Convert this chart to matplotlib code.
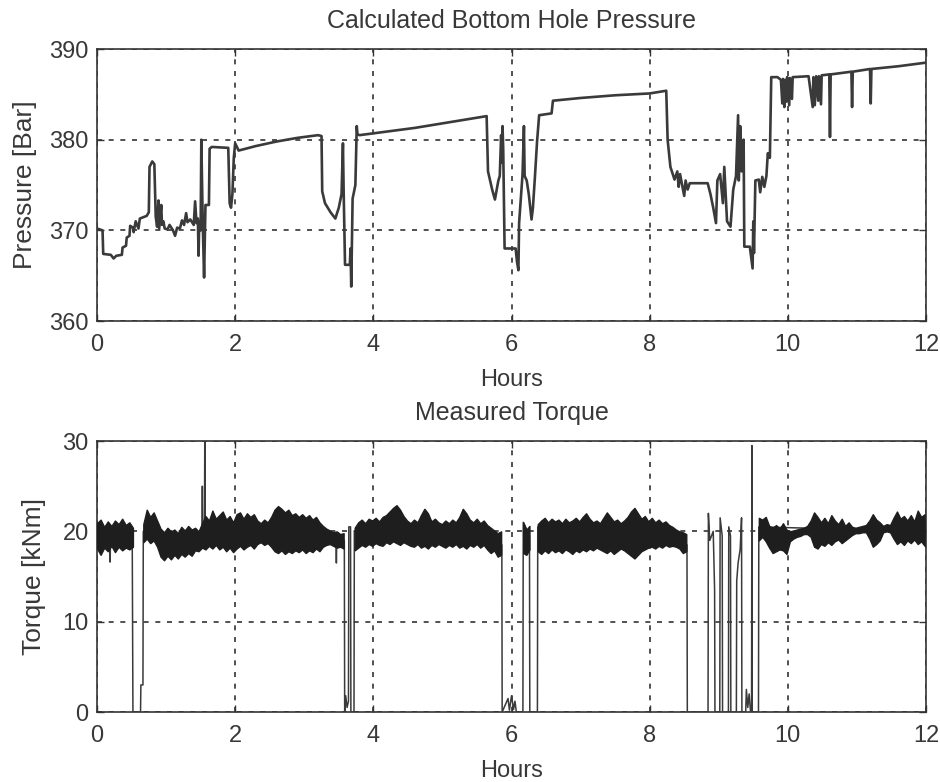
import numpy as np
import matplotlib
matplotlib.use("Agg")
import matplotlib.pyplot as plt

# ---- Calculated bottom hole pressure (hours, bar) ----
p_hours = [
    0.00, 0.08, 0.09, 0.20, 0.24, 0.28, 0.36, 0.37, 0.42, 0.43, 0.47, 0.48,
    0.52, 0.53, 0.56, 0.60, 0.62, 0.72, 0.75, 0.76, 0.80, 0.83, 0.85, 0.87,
    0.89, 0.90, 0.93, 0.94, 0.96, 0.98, 1.02, 1.05, 1.10, 1.13, 1.16, 1.20,
    1.23, 1.26, 1.29, 1.31, 1.35, 1.40, 1.42, 1.44, 1.46, 1.47, 1.48, 1.50,
    1.51, 1.53, 1.55, 1.57, 1.62, 1.63, 1.66, 1.90, 1.92, 1.94, 1.96, 1.98,
    2.00, 2.05, 2.30, 2.60, 2.90, 3.20, 3.25, 3.26, 3.30, 3.38, 3.45, 3.50,
    3.54, 3.56, 3.57, 3.59, 3.66, 3.67, 3.68, 3.70, 3.74, 3.76, 3.77, 3.80,
    4.20, 4.60, 5.00, 5.40, 5.64, 5.66, 5.72, 5.76, 5.81, 5.83, 5.85, 5.86,
    5.87, 5.88, 5.90, 6.06, 6.08, 6.10, 6.11, 6.14, 6.16, 6.18, 6.19, 6.22,
    6.25, 6.29, 6.31, 6.34, 6.37, 6.40, 6.58, 6.60, 7.00, 7.50, 8.00, 8.24,
    8.26, 8.30, 8.36, 8.40, 8.42, 8.44, 8.47, 8.50, 8.52, 8.55, 8.58, 8.84,
    8.88, 8.92, 8.96, 8.98, 9.02, 9.06, 9.08, 9.12, 9.17, 9.21, 9.25, 9.28,
    9.29, 9.31, 9.33, 9.36, 9.37, 9.45, 9.47, 9.49, 9.50, 9.51, 9.53, 9.58,
    9.60, 9.63, 9.66, 9.69, 9.71, 9.74, 9.76, 9.85, 9.90, 9.92, 9.93, 9.95,
    9.96, 9.98, 9.99, 10.02, 10.03, 10.06, 10.07, 10.30, 10.36, 10.37, 10.39,
    10.41, 10.44, 10.45, 10.48, 10.49, 10.60, 10.61, 10.62, 10.92, 10.93,
    10.94, 11.19, 11.20, 11.21, 11.60, 12.00,
]
p_bar = [
    370.2, 370.0, 367.4, 367.3, 366.9, 367.2, 367.3, 368.1, 368.3, 369.2, 369.4, 370.5,
    370.3, 369.8, 371.0, 370.2, 371.3, 371.6, 372.0, 377.0, 377.6, 377.3, 371.5, 370.4,
    373.3, 370.2, 372.8, 370.6, 371.0, 370.2, 370.1, 370.6, 370.0, 369.4, 370.3, 370.2,
    371.1, 370.6, 371.9, 370.9, 371.2, 370.6, 373.2, 370.8, 371.3, 367.2, 371.0, 370.0,
    380.0, 371.0, 364.8, 372.8, 372.8, 379.0, 379.2, 379.1, 373.0, 372.5, 374.0, 378.0,
    379.6, 378.8, 379.3, 379.8, 380.2, 380.5, 380.4, 374.3, 373.0, 372.0, 371.3, 372.5,
    374.0, 379.6, 374.5, 366.2, 366.2, 368.0, 363.8, 373.5, 375.0, 381.5, 380.6, 380.5,
    380.9, 381.3, 381.8, 382.3, 382.6, 376.5, 374.5, 373.4, 375.5, 376.0, 380.5, 377.5,
    381.5, 379.0, 368.0, 368.0, 366.5, 365.6, 370.8, 374.0, 376.2, 381.5, 376.0, 375.5,
    374.0, 371.2, 372.5, 376.0, 379.8, 382.7, 382.9, 384.3, 384.6, 384.9, 385.1, 385.4,
    380.0, 377.0, 375.6, 376.5, 374.8, 376.2, 375.0, 373.8, 375.5, 374.5, 375.2, 375.2,
    374.0, 372.5, 370.8, 375.5, 376.2, 373.0, 377.0, 371.0, 370.4, 374.5, 376.0, 382.7,
    375.5, 381.5, 376.5, 380.0, 368.2, 368.2, 367.0, 365.8, 371.0, 367.5, 375.5, 375.6,
    374.2, 375.9, 374.8, 376.0, 378.5, 378.0, 386.9, 386.9, 386.6, 384.0, 386.7, 383.6,
    386.6, 384.2, 386.9, 383.8, 386.8, 384.5, 386.9, 387.0, 383.6, 386.9, 383.8,
    387.0, 384.3, 387.0, 383.9, 387.1, 387.2, 380.3, 387.2, 387.5, 383.6,
    387.5, 387.8, 384.0, 387.8, 388.1, 388.5,
]

# ---- Measured torque: trace through dropouts and spikes (hours, kNm) ----
t_hours = [
    0.00, 0.185, 0.19, 0.195, 0.51, 0.52, 0.63, 0.635, 0.665, 0.67, 1.52, 1.525,
    1.53, 1.555, 1.56, 1.565, 3.46, 3.465, 3.47, 3.58, 3.585, 3.60, 3.62, 3.64,
    3.645, 3.67, 3.675, 3.72, 3.725, 5.86, 5.865, 5.95, 5.97, 6.00, 6.03, 6.05,
    6.07, 6.165, 6.17, 6.26, 6.265, 6.375, 6.38, 8.54, 8.545, 8.845, 8.85, 8.87,
    8.92, 8.94, 8.945, 9.015, 9.02, 9.05, 9.055, 9.14, 9.145, 9.17, 9.175, 9.255,
    9.26, 9.28, 9.31, 9.33, 9.335, 9.39, 9.40, 9.42, 9.44, 9.46, 9.475, 9.48,
    9.485, 9.575, 9.58, 12.00,
]
t_knm = [
    19.5, 19.0, 16.6, 19.0, 19.0, 0.0, 0.0, 3.0, 3.0, 20.0, 19.5, 25.0,
    19.5, 19.5, 30.0, 19.5, 19.0, 16.5, 19.0, 19.0, 0.0, 1.8, 0.5, 1.2,
    20.5, 20.5, 0.0, 0.0, 20.0, 18.5, 0.0, 1.5, 0.2, 1.8, 0.3, 1.2,
    0.0, 0.0, 21.0, 19.5, 0.0, 0.0, 20.5, 18.5, 0.0, 0.0, 22.0, 19.0,
    20.0, 13.5, 0.0, 0.0, 21.5, 19.5, 0.0, 0.0, 20.5, 19.5, 0.0, 0.0,
    14.5, 16.5, 18.0, 21.5, 0.0, 0.0, 2.5, 0.5, 2.0, 0.0, 0.0, 29.5,
    0.0, 0.0, 20.5, 20.0,
]

# ---- Measured torque: noise band envelope, per running segment ----
# (start hour, end hour); samples evenly spaced inside each segment
band_spans = [(0.00, 0.52), (0.67, 3.57), (3.73, 5.85), (6.17, 6.26), (6.38, 8.53), (9.58, 11.98)]
band_hi = [
    [20.9, 21.3, 20.5, 21.1, 20.6, 21.2, 20.8, 21.4, 20.7, 21.0, 20.4],
    [20.8, 22.4, 21.6, 22.1, 21.2, 20.3, 19.9, 20.4, 20.0, 20.2, 19.8, 20.5,
     20.1, 20.6, 20.2, 20.4, 20.0, 20.9, 21.7, 21.2, 22.3, 21.4, 21.8, 22.2,
     21.3, 21.7, 21.0, 21.9, 22.1, 21.4, 22.0, 21.6, 21.9, 21.2, 20.9, 21.3,
     21.0, 21.6, 22.4, 22.8, 22.5, 22.1, 22.4, 21.8, 22.0, 21.6, 21.9, 21.5,
     21.8, 21.3, 21.6, 21.0, 20.6, 20.3, 20.1, 19.9, 20.0, 19.7, 19.8],
    [20.4, 21.0, 21.3, 20.9, 21.4, 21.2, 21.5, 21.1, 21.6, 21.8, 22.2, 22.6,
     22.9, 22.4, 21.7, 21.2, 20.9, 21.3, 21.0, 21.8, 22.5, 22.0, 21.1, 21.4,
     21.0, 20.8, 21.2, 20.9, 21.3, 21.0, 21.6, 22.5, 22.0, 21.3, 21.0, 21.4,
     20.9, 21.2, 20.7, 20.4, 20.1, 19.8, 20.0],
    [21.0, 20.2, 20.6],
    [20.8, 21.2, 21.5, 21.0, 21.4, 21.1, 21.3, 20.9, 21.4, 21.0, 21.2, 21.5,
     21.1, 21.6, 22.0, 21.4, 21.0, 21.2, 20.9, 21.5, 22.1, 21.6, 21.1, 21.3,
     20.9, 21.2, 21.6, 22.2, 22.6, 22.0, 21.4, 21.7, 21.1, 21.5, 21.0, 21.3,
     20.9, 21.1, 20.7, 20.5, 20.2, 20.0, 19.9, 19.7],
    [21.5, 21.3, 21.6, 20.6, 20.4, 20.7, 20.3, 20.9, 20.2, 20.0, 20.1, 20.2,
     20.3, 20.4, 20.6, 21.2, 22.1, 21.6, 21.0, 21.5, 20.9, 21.8, 21.2, 20.8,
     21.4, 20.6, 21.0, 20.5, 20.4, 20.5, 20.6, 20.7, 21.2, 21.9, 21.3, 21.0,
     20.6, 20.8, 20.7, 21.5, 22.2, 21.4, 21.7, 21.2, 21.8, 21.1, 22.3, 21.6,
     21.9],
]
band_lo = [
    [18.1, 17.4, 18.2, 17.8, 18.4, 17.7, 18.3, 17.9, 18.2, 18.0, 18.3],
    [18.8, 19.2, 18.7, 19.0, 18.3, 17.2, 16.8, 17.3, 16.9, 17.4, 17.0, 17.5,
     17.2, 17.6, 17.3, 17.9, 17.8, 18.2, 18.0, 18.4, 18.1, 18.5, 18.0, 18.3,
     17.8, 18.2, 17.7, 18.1, 18.4, 18.0, 18.3, 18.5, 18.1, 18.6, 18.8, 18.5,
     18.7, 18.3, 17.8, 17.6, 17.9, 17.5, 17.8, 17.6, 17.9, 17.7, 18.0, 17.6,
     17.9, 17.7, 18.1, 17.8, 18.3, 18.5, 18.6, 18.4, 18.2, 18.3, 18.1],
    [17.9, 18.2, 18.5, 18.3, 18.6, 18.4, 18.7, 18.5, 18.4, 18.8, 18.6, 18.9,
     18.7, 18.5, 18.8, 18.6, 18.4, 18.3, 18.6, 18.2, 18.4, 18.1, 18.5, 18.3,
     18.6, 18.4, 18.2, 18.5, 18.3, 18.6, 18.2, 18.4, 18.1, 18.5, 18.3, 18.6,
     18.2, 18.5, 18.0, 17.6, 17.9, 17.2, 17.4],
    [17.6, 17.4, 18.0],
    [17.8, 17.5, 17.9, 17.6, 18.0, 17.7, 17.9, 17.6, 18.0, 17.8, 17.5, 17.9,
     17.7, 18.0, 17.8, 18.1, 17.9, 18.2, 18.0, 17.8, 17.6, 17.9, 17.5, 17.8,
     18.1, 17.9, 17.6, 17.3, 17.0, 17.4, 17.8, 18.0, 18.2, 18.3, 18.1, 18.4,
     18.2, 18.5, 18.3, 18.4, 18.3, 18.1, 17.6, 17.8],
    [19.0, 19.4, 18.9, 18.2, 17.6, 17.8, 18.0, 17.9, 17.5, 18.9, 19.2, 19.4,
     19.5, 19.7, 19.7, 19.4, 18.3, 18.1, 18.6, 18.4, 18.8, 18.5, 18.9, 19.1,
     18.7, 19.0, 19.3, 19.6, 19.8, 19.8, 19.9, 19.9, 19.2, 18.3, 18.6, 19.0,
     19.9, 20.0, 19.9, 19.2, 18.6, 18.9, 18.5, 19.0, 18.7, 19.1, 18.6, 18.9,
     18.4],
]

TEXT = "#383838"
LINE = "#3a3a3a"
plt.rcParams["font.family"] = ["Liberation Sans", "DejaVu Sans"]
plt.rcParams["font.size"] = 17


def style_axes(ax, ylim, yticks, ylabel, title, ypad):
    ax.set_xlim(0, 12)
    ax.set_ylim(*ylim)
    ax.set_xticks(range(0, 13, 2))
    ax.set_yticks(yticks)
    ax.set_xlabel("Hours", color=TEXT, labelpad=10)
    ax.set_ylabel(ylabel, color=TEXT, labelpad=ypad, fontsize=19)
    ax.set_title(title, color=TEXT, pad=15, fontsize=18)
    ax.grid(True, color="#333333", linestyle=(0, (3, 4)), linewidth=1.2)
    ax.tick_params(direction="in", length=5, width=1, colors="#333333",
                   labelcolor=TEXT, top=True, right=True)
    ax.tick_params(axis="x", pad=9)
    ax.tick_params(axis="y", pad=6)
    for s in ax.spines.values():
        s.set_color("#333333")
        s.set_linewidth(1.2)


fig = plt.figure(figsize=(9.4, 7.82), dpi=100)
ax1 = fig.add_axes([0.1032, 0.5895, 0.8819, 0.3478])
ax2 = fig.add_axes([0.1032, 0.0895, 0.8819, 0.3465])

# top: pressure
ax1.plot(p_hours, p_bar, color=LINE, linewidth=1.9, zorder=3)
style_axes(ax1, (360, 390), [360, 370, 380, 390], "Pressure [Bar]",
           "Calculated Bottom Hole Pressure", 9)

# bottom: torque
ax2.plot(t_hours, t_knm, color=LINE, linewidth=1.1, zorder=3)
for (h0, h1), hi, lo in zip(band_spans, band_hi, band_lo):
    hh = np.linspace(h0, h1, len(hi))
    ax2.fill_between(hh, lo, hi, color="#1e1e1e", linewidth=1.0,
                     edgecolor="#1e1e1e", zorder=4)
style_axes(ax2, (0, 30), [0, 10, 20, 30], "Torque [kNm]", "Measured Torque", 12)

fig.savefig("out.png", dpi=100)
